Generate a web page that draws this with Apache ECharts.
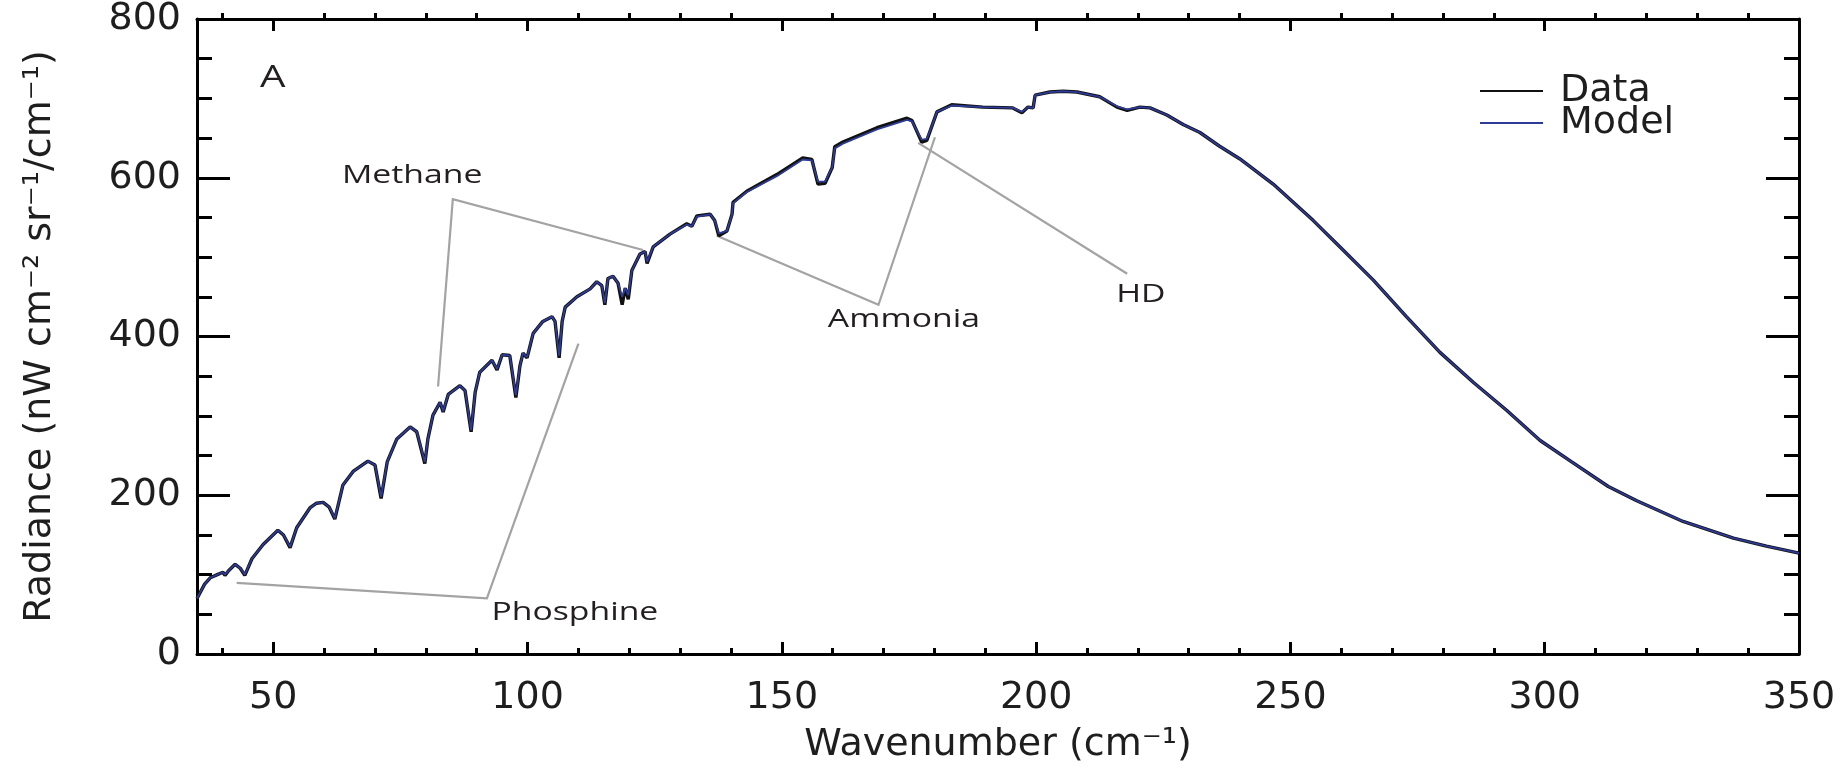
<!DOCTYPE html>
<html>
<head>
<meta charset="utf-8">
<script src="https://cdn.jsdelivr.net/npm/echarts@6/dist/echarts.min.js"></script>
<style>
  html, body { margin: 0; padding: 0; background: #ffffff; }
  #chart { width: 1847px; height: 770px; }
</style>
</head>
<body>
<div id="chart"></div>
<script>
// Spectrum samples: wavenumber (cm^-1) and radiance (nW cm^-2 sr^-1 / cm^-1)
const wavenumber = [
  35, 36.5, 37.6, 39, 40.1, 40.5, 41.2, 42.5, 43.5, 44.4, 45.8, 48, 50.9, 52, 53.3, 54.6,
  57.2, 58.5, 59.8, 61, 62.1, 63.7, 65.7, 68.6, 70, 71.2, 72.4, 74.3, 76.9, 78.2, 79.8, 80.4,
  81.4, 82.8, 83.4, 84.4, 86.7, 87.7, 88.9, 89.7, 90.6, 93, 94, 95, 96.5, 97.7, 98.5, 99.1,
  99.9, 101.1, 103, 104.8, 105.4, 106.2, 106.8, 107.4, 109.7, 112.3, 113.6, 114.6, 115.2, 115.8, 116.8, 117.8,
  118.6, 119.2, 119.8, 120.5, 122.1, 123.1, 123.5, 124.7, 128, 131.3, 132.3, 133.3, 135.9, 136.8, 137.6, 139.2,
  140.2, 140.4, 143.1, 149, 154.1, 155.9, 157.1, 158.5, 159.9, 160.4, 162, 168.7, 174.6, 175.6, 176.8, 177.5,
  178.5, 179.5, 180.5, 183.4, 189.5, 195.4, 197.2, 198.4, 199.4, 199.8, 202.7, 205.3, 208, 212.5, 215.9, 217.9,
  220.4, 222.4, 225.7, 228.9, 232.2, 236, 240, 246.6, 254.5, 259.7, 266.3, 272.8, 279.4, 286, 292.5, 299.1,
  305.3, 312.5, 318.1, 327.2, 337.1, 343.6, 350
];

const dataRadiance = [
  70, 88, 96, 100, 103, 99, 105, 113, 108, 99, 120, 138, 156, 150, 134, 159,
  184, 190, 191, 185, 170, 213, 230, 243, 238, 196, 242, 271, 286, 280, 240, 271,
  301, 317, 305, 327, 338, 332, 280, 330, 355, 370, 358, 377, 376, 323, 363, 379,
  373, 404, 419, 425, 419, 373, 419, 437, 450, 460, 469, 464, 440, 473, 476, 467,
  440, 461, 447, 483, 504, 507, 492, 513, 529, 542, 539, 552, 554, 546, 527, 533,
  554, 569, 583, 604, 625, 623, 592, 593, 613, 639, 645, 663, 675, 672, 655, 645,
  647, 665, 683, 692, 689, 688, 682, 689, 688, 704, 708, 709, 708, 702, 689, 685,
  689, 688, 679, 667, 657, 640, 624, 592, 546, 513, 471, 425, 380, 342, 307, 269,
  242, 211, 193, 167, 146, 136, 127
];

const modelRadiance = [
  70, 88, 96, 100, 103, 100, 105, 113, 108, 100, 120, 138, 156, 150, 135, 159,
  184, 190, 191, 185, 171, 213, 230, 243, 238, 198, 242, 271, 286, 280, 242, 271,
  301, 317, 306, 327, 338, 332, 282, 330, 355, 370, 359, 377, 376, 326, 363, 379,
  374, 404, 419, 425, 419, 376, 419, 437, 450, 460, 469, 464, 442, 473, 476, 467,
  450, 461, 452, 483, 504, 507, 494, 513, 529, 541, 539, 551, 554, 546, 530, 533,
  554, 568, 582, 602, 623, 622, 595, 595, 613, 637, 643, 661, 673, 671, 656, 648,
  649, 665, 683, 691, 689, 688, 683, 689, 688, 704, 708, 709, 708, 702, 690, 686,
  689, 688, 679, 667, 657, 640, 624, 592, 546, 513, 471, 425, 380, 342, 307, 269,
  242, 211, 193, 167, 146, 136, 127
];

// Tick positions on the wavenumber axis
const xMajorTicks = [50, 100, 150, 200, 250, 300, 350];
const xMinorTicks = [40, 60, 70, 80, 90, 110, 120, 130, 140, 160, 170, 180, 190,
  210, 220, 230, 240, 260, 270, 280, 290, 310, 320, 330, 340];

// Callout leader lines, in [wavenumber, radiance]
const methaneLeader = [[82.4, 337], [85.3, 573], [122.7, 509]];
const phosphineLeader = [[42.8, 89.5], [92.0, 70], [110, 391]];
const ammoniaLeader = [[137.2, 527], [169.0, 440], [180.1, 651]];
const hdLeader = [[176.8, 644], [217.9, 479]];

// Annotation texts and the [wavenumber, radiance] they sit at
const annotationTexts = ['A', 'Methane', 'Ammonia', 'HD', 'Phosphine'];
const annotationAnchors = [[49.9, 725], [77.3, 602], [174.0, 421], [220.6, 452], [109.3, 52]];

const pairs = (xs, ys) => xs.map((x, i) => [x, ys[i]]);

const idlFont = 'DejaVu Sans';
const labelFontSize = 38;
const axisColor = '#000000';
const textColor = '#1e1e1e';

const gridBox = { left: 197, right: 48, top: 13, bottom: 116 };

const majorXAxis = (position, showLabels) => ({
  type: 'value', gridIndex: 0, position: position,
  min: 35, max: 350,
  axisLine: { show: true, onZero: false, lineStyle: { color: axisColor, width: 3 } },
  axisTick: { show: true, inside: true, length: 12, customValues: xMajorTicks,
              lineStyle: { color: axisColor, width: 3 } },
  axisLabel: { show: showLabels, customValues: xMajorTicks, margin: 25,
               fontFamily: idlFont, fontSize: labelFontSize, color: textColor },
  splitLine: { show: false }
});

const minorXAxis = (position) => ({
  type: 'value', gridIndex: 1, position: position,
  min: 35, max: 350,
  axisLine: { show: false, onZero: false },
  axisTick: { show: true, inside: true, length: 6, customValues: xMinorTicks,
              lineStyle: { color: axisColor, width: 3 } },
  axisLabel: { show: false },
  splitLine: { show: false }
});

const radianceAxis = (position, showLabels) => ({
  type: 'value', gridIndex: 0, position: position,
  min: 0, max: 800, interval: 200,
  axisLine: { show: true, onZero: false, lineStyle: { color: axisColor, width: 3 } },
  axisTick: { show: true, inside: true, length: 33, lineStyle: { color: axisColor, width: 3 } },
  minorTick: { show: true, splitNumber: 4, length: 15, lineStyle: { color: axisColor, width: 3 } },
  axisLabel: { show: showLabels, margin: 16, fontFamily: idlFont, fontSize: labelFontSize, color: textColor },
  splitLine: { show: false },
  minorSplitLine: { show: false }
});

const xBottom = majorXAxis('bottom', true);
xBottom.name = 'Wavenumber (cm\u207B\u00B9)';
xBottom.nameLocation = 'middle';
xBottom.nameGap = 72;
xBottom.nameTextStyle = { fontFamily: idlFont, fontSize: labelFontSize, color: textColor };

const yLeft = radianceAxis('left', true);
yLeft.name = 'Radiance (nW cm\u207B\u00B2 sr\u207B\u00B9/cm\u207B\u00B9)';
yLeft.nameLocation = 'middle';
yLeft.nameGap = 138;
yLeft.nameTextStyle = { fontFamily: idlFont, fontSize: labelFontSize, color: textColor };

const chart = echarts.init(document.getElementById('chart'), null, { renderer: 'canvas' });

const option = {
  backgroundColor: '#ffffff',
  animation: false,
  grid: [
    Object.assign({ containLabel: false }, gridBox),
    Object.assign({ containLabel: false }, gridBox)
  ],
  xAxis: [
    xBottom,
    majorXAxis('top', false),
    minorXAxis('bottom'),
    minorXAxis('top')
  ],
  yAxis: [
    yLeft,
    radianceAxis('right', false),
    { type: 'value', gridIndex: 1, min: 0, max: 800, show: false }
  ],
  legend: {
    orient: 'vertical',
    left: 1480,
    top: 72,
    padding: 0,
    itemGap: -6,
    itemWidth: 63,
    itemHeight: 2,
    icon: 'rect',
    data: ['Data', 'Model'],
    textStyle: { fontFamily: idlFont, fontSize: labelFontSize, color: textColor,
                 padding: [0, 0, 0, 12] }
  },
  series: [
    {
      type: 'lines',
      name: 'leaders',
      coordinateSystem: 'cartesian2d',
      xAxisIndex: 0, yAxisIndex: 0,
      polyline: true,
      silent: true,
      z: 1,
      lineStyle: { color: '#a3a3a3', width: 2.2, opacity: 1 },
      data: [methaneLeader, phosphineLeader, ammoniaLeader, hdLeader].map(c => ({ coords: c }))
    },
    {
      type: 'line',
      name: 'Data',
      xAxisIndex: 0, yAxisIndex: 0,
      data: pairs(wavenumber, dataRadiance),
      symbol: 'none',
      color: '#111111',
      lineStyle: { color: '#111111', width: 3.4 },
      z: 2
    },
    {
      type: 'line',
      name: 'Model',
      xAxisIndex: 0, yAxisIndex: 0,
      data: pairs(wavenumber, modelRadiance),
      symbol: 'none',
      color: '#2d3a96',
      lineStyle: { color: '#2d3a96', width: 1.8 },
      z: 3
    }
  ]
};

chart.setOption(option);

// Place the annotation words at their data anchors (text is set wide, as in the figure)
const graphics = annotationTexts.map((t, i) => {
  const p = chart.convertToPixel({ gridIndex: 0 }, annotationAnchors[i]);
  const isPanel = t === 'A';
  return {
    type: 'text',
    x: p[0], y: p[1],
    scaleX: isPanel ? 1.3 : 1.35,
    silent: true,
    z: 10,
    style: {
      text: t,
      x: 0, y: 0,
      align: 'center',
      verticalAlign: 'middle',
      fontFamily: 'Open Sans',
      fontSize: isPanel ? 31 : 25,
      fill: '#231f20'
    }
  };
});
chart.setOption({ graphic: graphics });
</script>
</body>
</html>
